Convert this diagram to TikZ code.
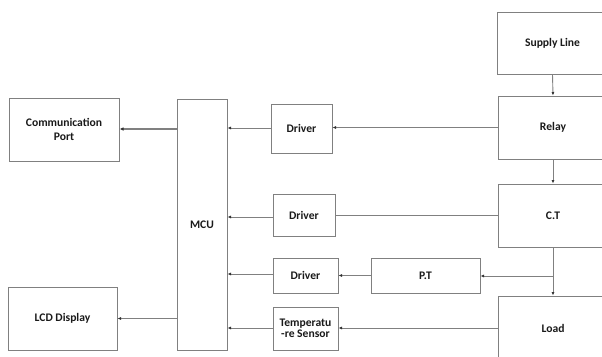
\documentclass[tikz,border=0pt]{standalone}
\usepackage{fontspec}
\setmainfont{Carlito}
\usetikzlibrary{arrows.meta}
\definecolor{edge}{HTML}{808080}
\definecolor{txt}{HTML}{1A1A1A}
\definecolor{tip}{HTML}{333333}
\tikzset{
  blk/.style={draw=edge, line width=1pt, fill=white, inner sep=1pt, align=center,
    font=\fontsize{11.6}{12.5}\selectfont\bfseries, text=txt},
  conn/.style={draw=edge, line width=0.9pt},
  arr/.style={conn, -{Latex[length=3.5pt,width=3pt,color=tip]}},
}
\begin{document}
\begin{tikzpicture}[x=1pt,y=-1pt]
\useasboundingbox (0,0) rectangle (602,356);
\clip (0,0) rectangle (602,356);
\fill[white] (0,0) rectangle (602,356);
% right column
\node[blk, minimum width=111pt, minimum height=62pt] (supply) at (552.5,43) {Supply Line};
\node[blk, minimum width=110pt, minimum height=63pt] (relay) at (553,127.5) {Relay};
\node[blk, minimum width=110pt, minimum height=63pt] (ct) at (553,215.5) {C.T};
\node[blk, minimum width=110pt, minimum height=64pt] (load) at (553,328) {Load};
% middle
\node[blk, minimum width=109pt, minimum height=35pt] (pt) at (425.5,275.5) {P.T};
\node[blk, minimum width=61pt, minimum height=49pt] (drv1) at (301.5,128.5) {Driver};
\node[blk, minimum width=62pt, minimum height=42pt] (drv2) at (304,215) {Driver};
\node[blk, minimum width=65pt, minimum height=35pt] (drv3) at (305.5,275.5) {Driver};
\node[blk, minimum width=65pt, minimum height=43pt] (temp) at (305.5,328.5) {Temperatu\\[-1pt]-re Sensor};
% MCU
\node[blk, minimum width=50pt, minimum height=251pt] (mcu) at (202,224.5) {MCU};
% left
\node[blk, minimum width=110pt, minimum height=63pt] (comm) at (64,129.5) {Communication\\[1pt]Port};
\node[blk, minimum width=109pt, minimum height=63pt] (lcd) at (62.5,318.5) {LCD Display};
% coordinates
\coordinate (br) at (553,276);
% connectors
\draw[arr] (supply.south) -- (relay.north);
\draw[arr] (relay.south) -- (ct.north);
\draw[arr] (ct.south) -- (load.north);
\draw[arr] (br) -- (pt.east |- br);
\draw[arr] (relay.west) -- (drv1.east |- relay.west);
\draw[arr] ([yshift=0.5pt]drv1.west) -- ([yshift=0.5pt]drv1.west -| mcu.east);
\draw[conn] (drv2.east) -- (drv2.east -| ct.west);
\draw[arr] ([yshift=-2pt]drv2.west) -- ([yshift=-2pt]drv2.west -| mcu.east);
\draw[arr] (pt.west) -- (pt.west -| drv3.east);
\draw[arr] ([yshift=1.5pt]drv3.west) -- ([yshift=1.5pt]drv3.west -| mcu.east);
\draw[arr] (load.west) -- (load.west -| temp.east);
\draw[arr] ([yshift=0.5pt]temp.west) -- ([yshift=0.5pt]temp.west -| mcu.east);
\draw[arr, line width=2pt, -{Latex[length=4pt,width=3.5pt,color=tip]}] ([yshift=0.5pt]mcu.west |- comm.east) -- ([yshift=0.5pt]comm.east);
\draw[arr] (mcu.west |- lcd.east) -- (lcd.east);
\end{tikzpicture}
\end{document}
